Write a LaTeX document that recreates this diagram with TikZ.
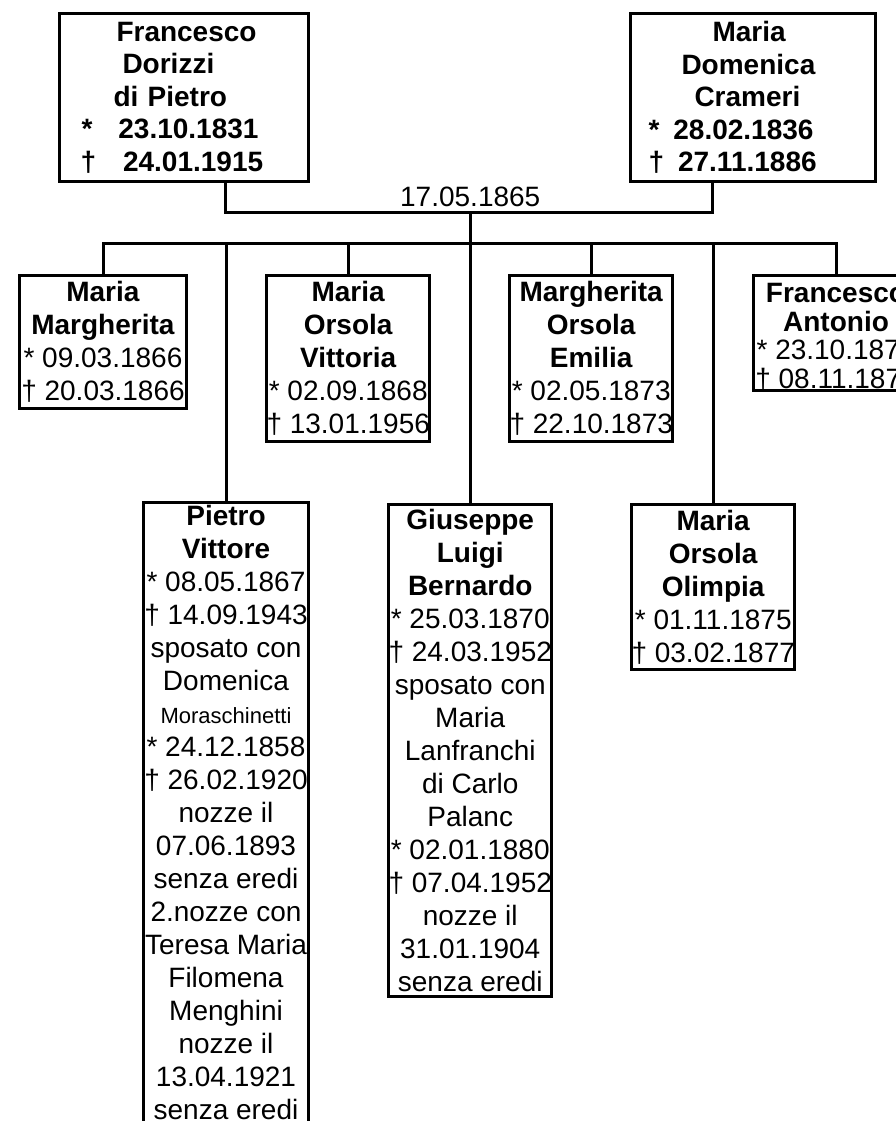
\documentclass[tikz,border=0pt]{standalone}
\usepackage{fontspec}
\setmainfont{Liberation Sans}
\usepackage{tikz}
\usetikzlibrary{positioning, calc}

\begin{document}
\begin{tikzpicture}[x=1pt, y=-1pt, line width=3pt,
		every node/.style={font=\fontsize{28}{33}\selectfont},
		box/.style={draw, fill=white, anchor=north west, align=center, inner sep=0pt},
		parent/.style={box, align=left, inner xsep=4pt, font=\fontsize{28}{32.5}\selectfont\bfseries}]
		\useasboundingbox (0,0) rectangle (896,1121);
		\clip (0,0) rectangle (896,1121);
		
		\node [parent, minimum width=249pt, text width=241pt, minimum height=168pt] (father) at (58,12)
		{\hspace*{53pt}Francesco\\\hspace*{59pt}Dorizzi\\\hspace*{50pt}di Pietro\\\hspace*{18pt}*\hspace*{26pt}23.10.1831\\\hspace*{17pt}†\hspace*{27pt}24.01.1915};
		\node [parent, minimum width=245pt, text width=237pt, minimum height=168pt] (mother) at (629,12)
		{\hspace*{78pt}Maria\\\hspace*{47pt}Domenica\\\hspace*{60pt}Crameri\\\hspace*{14pt}*\hspace*{14pt}28.02.1836\\\hspace*{14pt}†\hspace*{14pt}27.11.1886};
		
		\node [box, minimum width=167pt, minimum height=133pt] (c1) at (18,274)
		{\textbf{Maria}\\\textbf{Margherita}\\* 09.03.1866\\† 20.03.1866};
		\node [box, minimum width=165pt, minimum height=624pt] (c2) at (142,501)
		{\textbf{Pietro}\\\textbf{Vittore}\\* 08.05.1867\\† 14.09.1943\\sposato con\\Domenica\\{\fontsize{22}{33}\selectfont Moraschinetti}\\* 24.12.1858\\† 26.02.1920\\nozze il\\07.06.1893\\senza eredi\\2.nozze con\\Teresa Maria\\Filomena\\Menghini\\nozze il\\13.04.1921\\senza eredi\rule[-5pt]{0pt}{0pt}};
		\node [box, minimum width=162pt, minimum height=166pt] (c3) at (265,274)
		{\textbf{Maria}\\\textbf{Orsola}\\\textbf{Vittoria}\\* 02.09.1868\\† 13.01.1956};
		\node [box, minimum width=163pt, minimum height=492pt] (c4) at (387,503)
		{\textbf{Giuseppe}\\\textbf{Luigi}\\\textbf{Bernardo}\\* 25.03.1870\\† 24.03.1952\\sposato con\\Maria\\Lanfranchi\\di Carlo\\Palanc\\* 02.01.1880\\† 07.04.1952\\nozze il\\31.01.1904\\senza eredi};
		\node [box, minimum width=162pt, minimum height=166pt] (c5) at (508,274)
		{\textbf{Margherita}\\\textbf{Orsola}\\\textbf{Emilia}\\* 02.05.1873\\† 22.10.1873};
		\node [box, minimum width=163pt, minimum height=165pt] (c6) at (630,503)
		{\textbf{Maria}\\\textbf{Orsola}\\\textbf{Olimpia}\\* 01.11.1875\\† 03.02.1877};
		\node [box, minimum width=165pt, minimum height=115pt, font=\fontsize{28}{28.5}\selectfont] (c7) at (752,274)
		{\rule{0pt}{27pt}\textbf{Francesco}\\\textbf{Antonio}\\* 23.10.1878\\† 08.11.1878};
		
		\coordinate (wed) at (c4.north |- 0,212);
		\coordinate (bar) at (c4.north |- 0,243);
		\node [above=0pt of wed] (wdate) {17.05.1865};
		
		\draw ([xshift=167pt]father.south west) |- (wed) -| ([xshift=83pt]mother.south west);
		\draw (wed) -- (c4.north);
		\draw (c1.north) |- (bar) -| (c7.north);
		\foreach \c in {c2,c3,c5,c6}
			\draw (\c.north) -- (\c.north |- bar);
\end{tikzpicture}
\end{document}
